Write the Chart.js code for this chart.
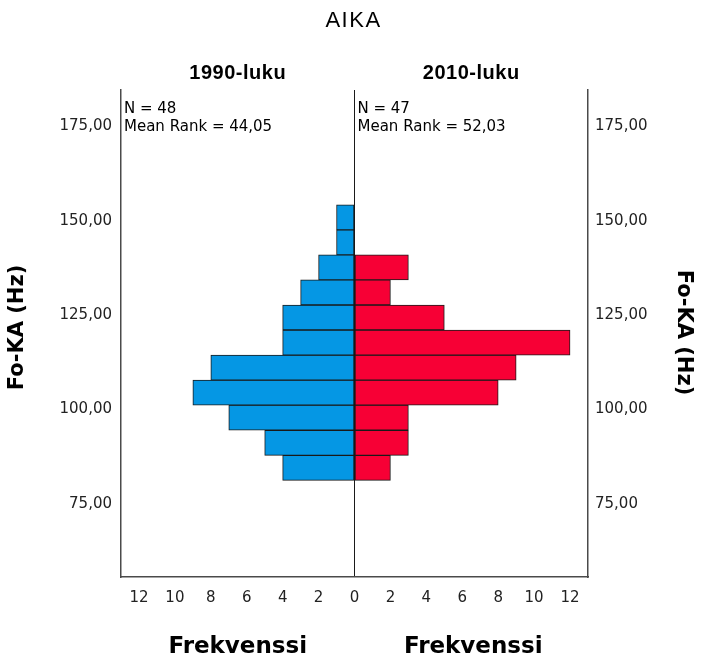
<!DOCTYPE html>
<html lang="fi">
<head>
<meta charset="UTF-8">
<title>AIKA - Fo-KA (Hz)</title>
<script src="https://cdn.jsdelivr.net/npm/chart.js"></script>
<style>
  body { margin: 0; background: #ffffff; }
  canvas { display: block; }
</style>
</head>
<body>
<canvas id="pyramid" width="705" height="658"></canvas>
<script>
// bin centres of Fo-KA (Hz), bottom to top
const binMid = [84.52, 91.156, 97.792, 104.428, 111.064, 117.7, 124.336, 130.972, 137.608, 144.244, 150.88];
const freq1990 = [4, 5, 7, 9, 8, 4, 4, 3, 2, 1, 1];
const freq2010 = [2, 3, 3, 8, 9, 12, 5, 2, 3, 0, 0];
const yTicks = [75, 100, 125, 150, 175];
const xTicks = [-12, -10, -8, -6, -4, -2, 0, 2, 4, 6, 8, 10, 12];
const groups = ['1990-luku', '2010-luku'];
const stats1990 = ['N = 48', 'Mean Rank = 44,05'];
const stats2010 = ['N = 47', 'Mean Rank = 52,03'];

const tickFont = { family: 'DejaVu Sans', size: 15 };
const frameColor = '#4a4a4a';

function fmtHz(v) {
    return v.toFixed(2).replace('.', ',');
}

function setTicks(list) {
    return scale => { scale.ticks = list.map(v => ({ value: v })); };
}

const textPlugin = {
    id: 'panelTexts',
    afterDraw(chart) {
        const ctx = chart.ctx;
        const area = chart.chartArea;
        const zero = chart.scales.x.getPixelForValue(0);
        const leftMid = (area.left + zero) / 2;
        const rightMid = (zero + area.right) / 2;
        const midY = (area.top + area.bottom) / 2;

        ctx.save();
        ctx.fillStyle = '#000000';
        ctx.textBaseline = 'alphabetic';

        // main title
        ctx.textAlign = 'center';
        ctx.font = '22px "Liberation Sans", Arial, sans-serif';
        ctx.letterSpacing = '1.5px';
        ctx.fillText('AIKA', chart.width / 2 + 1, 27);

        // panel headers
        ctx.font = 'bold 20px "Liberation Sans", Arial, sans-serif';
        ctx.letterSpacing = '0.5px';
        ctx.fillText(groups[0], leftMid, 79);
        ctx.fillText(groups[1], rightMid, 79);

        // N / mean rank
        ctx.letterSpacing = '0px';
        ctx.textAlign = 'left';
        ctx.font = '15px "DejaVu Sans", sans-serif';
        ctx.fillText(stats1990[0], area.left + 3, 113);
        ctx.fillText(stats1990[1], area.left + 3, 131);
        ctx.fillText(stats2010[0], zero + 3, 113);
        ctx.fillText(stats2010[1], zero + 3, 131);

        // x titles
        ctx.textAlign = 'center';
        ctx.font = 'bold 23px "DejaVu Sans", sans-serif';
        ctx.fillText('Frekvenssi', leftMid, 653);
        ctx.fillText('Frekvenssi', rightMid + 2, 653);

        // y titles
        ctx.font = 'bold 21px "DejaVu Sans", sans-serif';
        ctx.save();
        ctx.translate(23, midY - 6);
        ctx.rotate(-Math.PI / 2);
        ctx.fillText('Fo-KA (Hz)', 0, 0);
        ctx.restore();
        ctx.save();
        ctx.translate(678, midY - 1);
        ctx.rotate(Math.PI / 2);
        ctx.fillText('Fo-KA (Hz)', 0, 0);
        ctx.restore();

        ctx.restore();
    }
};

new Chart(document.getElementById('pyramid'), {
    type: 'bar',
    data: {
        datasets: [
            {
                label: groups[0],
                data: binMid.map((y, i) => ({ x: -freq1990[i], y: y })),
                backgroundColor: '#0597e4',
                borderColor: '#1a1a1a',
                borderWidth: 1,
                borderSkipped: false,
                grouped: false,
                barPercentage: 1,
                categoryPercentage: 1
            },
            {
                label: groups[1],
                data: binMid.map((y, i) => ({ x: freq2010[i], y: y })),
                backgroundColor: '#f70035',
                borderColor: '#1a1a1a',
                borderWidth: 1,
                borderSkipped: false,
                grouped: false,
                barPercentage: 1,
                categoryPercentage: 1
            }
        ]
    },
    options: {
        indexAxis: 'y',
        responsive: false,
        animation: false,
        devicePixelRatio: 1,
        layout: { padding: { top: 90, left: 0, right: 0, bottom: 0 } },
        plugins: {
            legend: { display: false },
            tooltip: { enabled: false },
            title: { display: false }
        },
        scales: {
            x: {
                type: 'linear',
                min: -13,
                max: 13,
                afterBuildTicks: setTicks(xTicks),
                afterFit: scale => { scale.height = 81; },
                ticks: {
                    font: tickFont,
                    color: '#222222',
                    padding: 12,
                    maxRotation: 0,
                    autoSkip: false,
                    callback: v => String(Math.abs(v))
                },
                grid: {
                    drawTicks: false,
                    color: c => (c.tick && c.tick.value === 0) ? '#1a1a1a' : 'rgba(0,0,0,0)',
                    lineWidth: 1
                },
                border: { display: true, color: frameColor, width: 1.5 }
            },
            y: {
                type: 'linear',
                position: 'left',
                min: 55.6,
                max: 184.6,
                offset: false,
                afterBuildTicks: setTicks(yTicks),
                afterFit: scale => { scale.width = 121; },
                ticks: {
                    font: tickFont,
                    color: '#222222',
                    padding: 9,
                    autoSkip: false,
                    callback: v => fmtHz(v)
                },
                grid: { display: false, drawTicks: false, offset: false },
                border: { display: true, color: frameColor, width: 1.5 }
            },
            y2: {
                type: 'linear',
                position: 'right',
                min: 55.6,
                max: 184.6,
                offset: false,
                afterBuildTicks: setTicks(yTicks),
                afterFit: scale => { scale.width = 117; },
                ticks: {
                    font: tickFont,
                    color: '#222222',
                    padding: 7,
                    autoSkip: false,
                    callback: v => fmtHz(v)
                },
                grid: { display: false, drawTicks: false, offset: false },
                border: { display: true, color: frameColor, width: 1.5 }
            }
        }
    },
    plugins: [textPlugin]
});
</script>
</body>
</html>
